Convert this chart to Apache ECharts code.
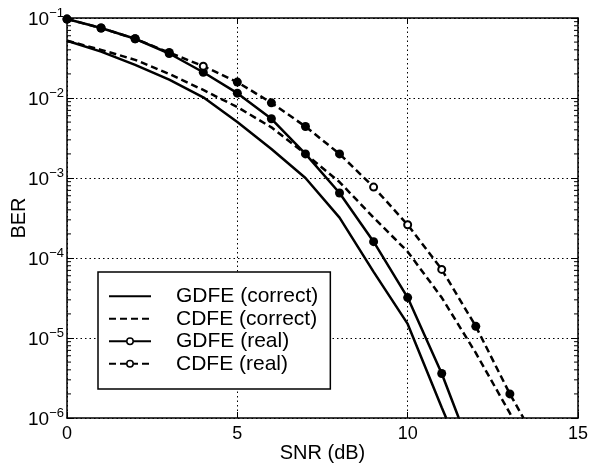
<!DOCTYPE html>
<html>
<head>
<meta charset="utf-8">
<script src="https://cdn.jsdelivr.net/npm/echarts@6/dist/echarts.min.js"></script>
<style>html,body{margin:0;padding:0;background:#fff}#c{width:589px;height:465px}</style>
</head>
<body>
<div id="c"></div>
<script>
// ---- data ----
const snr = [0, 1, 2, 3, 4, 5, 6, 7, 8, 9, 10, 11, 12, 13];
const gdfeCorrect = [0.052, 0.038, 0.026, 0.017, 0.0102, 0.005, 0.0023, 0.001, 3.2e-4, 6.7e-5, 1.5e-5, 1.35e-6];
const gdfeCorrectEnd = [11.13, 1e-6];
const cdfeCorrect = [0.052, 0.040, 0.030, 0.020, 0.0126, 0.0077, 0.0043, 0.002, 8.9e-4, 3.2e-4, 1.2e-4, 3.2e-5, 6.5e-6, 1.15e-6];
const cdfeCorrectEnd = [13.07, 1e-6];
const gdfeReal = [0.097, 0.075, 0.055, 0.036, 0.021, 0.0115, 0.0055, 0.002, 6.5e-4, 1.6e-4, 3.2e-5, 3.6e-6];
const gdfeRealEnd = [11.5, 1e-6];
const cdfeReal = [0.097, 0.075, 0.055, 0.037, 0.025, 0.0158, 0.0087, 0.0044, 0.002, 7.7e-4, 2.6e-4, 7.2e-5, 1.4e-5, 2e-6];
const cdfeRealEnd = [13.4, 1e-6];
const cdfeRealOpenIdx = [4, 9, 10, 11];
const xTicks = [0, 5, 10, 15];
const yDecades = [-6, -5, -4, -3, -2, -1];
const minorMantissa = [2, 3, 4, 5, 6, 7, 8, 9];
const names = ['GDFE (correct)', 'CDFE (correct)', 'GDFE (real)', 'CDFE (real)'];

const FONT = '"Liberation Sans", Arial, Helvetica, sans-serif';

function pairs(ys, end) {
  const out = ys.map((y, i) => [snr[i], y]);
  out.push({ value: end, symbol: 'none' });
  return out;
}
const cdfeRealData = cdfeReal.map((y, i) => {
  if (cdfeRealOpenIdx.indexOf(i) >= 0) {
    return { value: [snr[i], y], symbolSize: 7, itemStyle: { color: '#fff', borderColor: '#000', borderWidth: 2 } };
  }
  return [snr[i], y];
});
cdfeRealData.push({ value: cdfeRealEnd, symbol: 'none' });

const minorTicks = [];
yDecades.slice(0, -1).forEach(d => minorMantissa.forEach(m => minorTicks.push([0, m * Math.pow(10, d)])));

const chart = echarts.init(document.getElementById('c'), null, { renderer: 'canvas' });
const lineW = 2.5;
const dash = [7, 4];

const yLabel = {
  show: true,
  margin: 3,
  fontFamily: FONT,
  formatter: function (v) {
    const e = Math.round(Math.log10(v));
    return '{b|10}{s|\u2212' + (-e) + '}';
  },
  rich: {
    b: { fontSize: 19, fontFamily: FONT, color: '#000', padding: [4, 0, 0, 0] },
    s: { fontSize: 13, fontFamily: FONT, color: '#000', padding: [0, 0, 10, 0] }
  }
};

chart.setOption({
  animation: false,
  backgroundColor: '#fff',
  grid: { left: 67, right: 11, top: 18, bottom: 47, containLabel: false, outerBoundsMode: 'none' },
  xAxis: [{
    type: 'value', min: 0, max: 15, interval: 5,
    name: 'SNR (dB)', nameLocation: 'middle', nameGap: 25, nameMoveOverlap: false,
    nameTextStyle: { fontSize: 20, fontFamily: FONT, color: '#000' },
    axisLine: { show: true, onZero: false, lineStyle: { color: '#000', width: 1.5 } },
    axisTick: { show: true, inside: true, length: 6, lineStyle: { color: '#000', width: 1 } },
    axisLabel: { fontSize: 18, fontFamily: FONT, color: '#000', margin: 7, formatter: v => String(v) },
    splitLine: { show: true, lineStyle: { color: '#000', width: 1, type: [1.5, 3] } }
  }, {
    type: 'value', min: 0, max: 15, interval: 5, position: 'top',
    axisLine: { show: true, onZero: false, lineStyle: { color: '#000', width: 1.5 } },
    axisTick: { show: true, inside: true, length: 6, lineStyle: { color: '#000', width: 1 } },
    axisLabel: { show: false }, splitLine: { show: false }
  }],
  yAxis: [{
    type: 'log', logBase: 10, min: 1e-6, max: 1e-1,
    name: 'BER', nameLocation: 'middle', nameGap: 38, nameRotate: 90, nameMoveOverlap: false,
    nameTextStyle: { fontSize: 20, fontFamily: FONT, color: '#000' },
    axisLine: { show: true, onZero: false, lineStyle: { color: '#000', width: 1.5 } },
    axisTick: { show: true, inside: true, length: 7, lineStyle: { color: '#000', width: 1 } },
    axisLabel: yLabel,
    splitLine: { show: true, lineStyle: { color: '#000', width: 1, type: [1.5, 3] } }
  }, {
    type: 'log', logBase: 10, min: 1e-6, max: 1e-1, position: 'right',
    axisLine: { show: true, onZero: false, lineStyle: { color: '#000', width: 1.5 } },
    axisTick: { show: true, inside: true, length: 7, lineStyle: { color: '#000', width: 1 } },
    axisLabel: { show: false }, splitLine: { show: false }
  }],
  legend: {
    orient: 'vertical', left: 98, top: 272,
    padding: [13, 12, 14, 10],
    backgroundColor: '#fff', borderColor: '#000', borderWidth: 1.5, borderRadius: 0,
    itemWidth: 42, itemHeight: 8, itemGap: 0,
    textStyle: { fontSize: 21, fontFamily: FONT, color: '#000', lineHeight: 22.5, padding: [0, 0, 0, 20] },
    data: [
      { name: names[0], itemStyle: { color: 'rgba(0,0,0,0)', borderColor: 'rgba(0,0,0,0)', borderWidth: 0 } },
      { name: names[1], itemStyle: { color: 'rgba(0,0,0,0)', borderColor: 'rgba(0,0,0,0)', borderWidth: 0 } },
      { name: names[2], itemStyle: { color: '#fff', borderColor: '#000', borderWidth: 1.5 } },
      { name: names[3], itemStyle: { color: '#fff', borderColor: '#000', borderWidth: 1.5 } }
    ]
  },
  series: [{
    name: names[0], type: 'line', data: pairs(gdfeCorrect, gdfeCorrectEnd),
    symbol: 'none', lineStyle: { color: '#000', width: lineW }, itemStyle: { color: '#000' }, z: 3
  }, {
    name: names[1], type: 'line', data: pairs(cdfeCorrect, cdfeCorrectEnd),
    symbol: 'none', lineStyle: { color: '#000', width: lineW, type: dash }, itemStyle: { color: '#000' }, z: 3
  }, {
    name: names[2], type: 'line', data: pairs(gdfeReal, gdfeRealEnd),
    symbol: 'circle', symbolSize: 9, showAllSymbol: true,
    lineStyle: { color: '#000', width: lineW }, itemStyle: { color: '#000' }, z: 3
  }, {
    name: names[3], type: 'line', data: cdfeRealData,
    symbol: 'circle', symbolSize: 9, showAllSymbol: true,
    lineStyle: { color: '#000', width: lineW, type: dash }, itemStyle: { color: '#000' }, z: 3
  }, {
    type: 'custom', silent: true, clip: false, z: 5,
    data: minorTicks,
    renderItem: function (params, api) {
      const cs = params.coordSys;
      const p = api.coord([0, api.value(1)]);
      const y = p[1];
      return {
        type: 'group', children: [
          { type: 'line', shape: { x1: cs.x, y1: y, x2: cs.x + 4, y2: y }, style: { stroke: '#000', lineWidth: 1 } },
          { type: 'line', shape: { x1: cs.x + cs.width - 4, y1: y, x2: cs.x + cs.width, y2: y }, style: { stroke: '#000', lineWidth: 1 } }
        ]
      };
    }
  }]
});
</script>
</body>
</html>
